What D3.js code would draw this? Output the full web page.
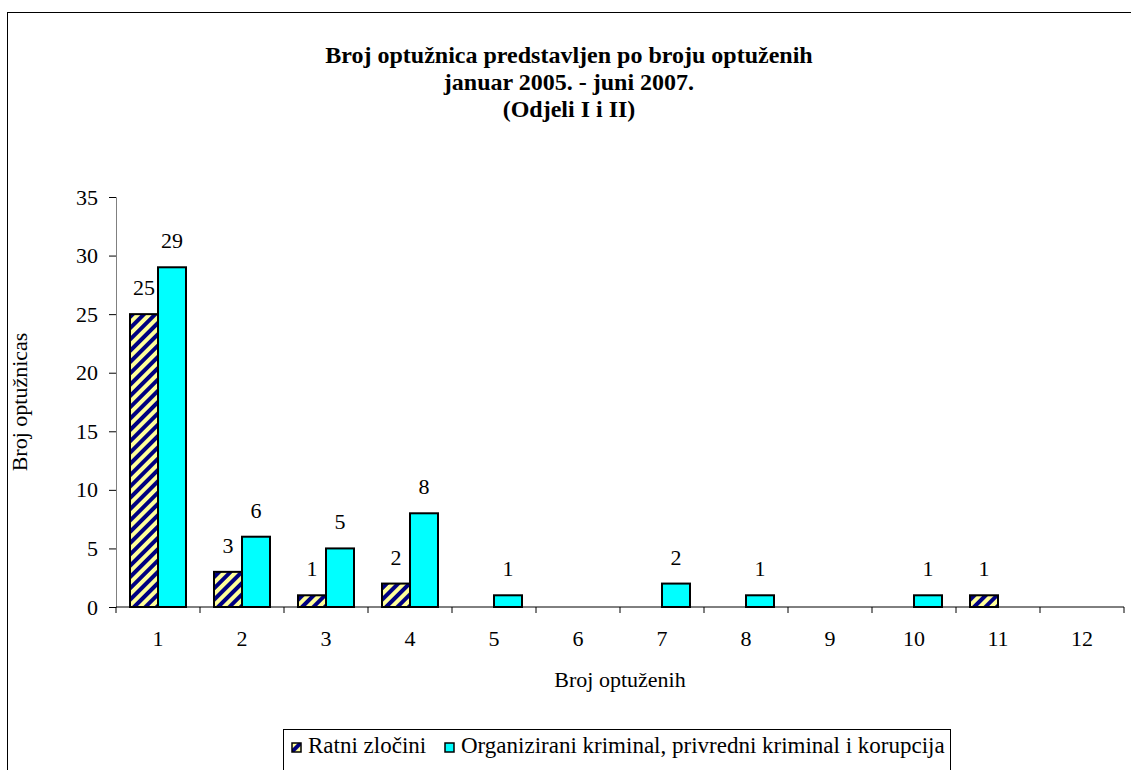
<!DOCTYPE html>
<html lang="en">
<head>
    <meta charset="UTF-8" />
    <title>Broj optužnica</title>
    <style>
        body { margin: 0; background: #fff; }
        svg text { font-family: "Liberation Serif", "Times New Roman", serif; fill: #000; }
    </style>
</head>
<body>
    <div id="container"></div>
</body>
<script src="https://cdnjs.cloudflare.com/ajax/libs/d3/7.1.1/d3.min.js"></script>
<script>
    let categories = ['1', '2', '3', '4', '5', '6', '7', '8', '9', '10', '11', '12'],
        ratni = [25, 3, 1, 2, 0, 0, 0, 0, 0, 0, 1, 0],
        organizirani = [29, 6, 5, 8, 1, 0, 2, 1, 0, 1, 0, 0],
        yTicks = [0, 5, 10, 15, 20, 25, 30, 35],
        seriesNames = ['Ratni zločini', 'Organizirani kriminal, privredni kriminal i korupcija'];

    let width = 1131, height = 770,
        plotLeft = 116, plotRight = 1124, plotTop = 197, plotBottom = 607,
        fs = 22;

    let svg = d3.select('#container').append('svg').attr('width', width).attr('height', height);

    // hatch pattern for war crimes
    let defs = svg.append('defs');
    let pat = defs.append('pattern').attr('id', 'hatch')
        .attr('patternUnits', 'userSpaceOnUse')
        .attr('width', 8).attr('height', 8)
        .attr('patternTransform', 'rotate(45)');
    pat.append('rect').attr('width', 8).attr('height', 8).attr('fill', '#ffff99');
    pat.append('rect').attr('width', 4).attr('height', 8).attr('fill', '#000080');

    // outer border
    svg.append('rect').attr('x', 7.5).attr('y', 12.5).attr('width', 1140).attr('height', 800)
        .attr('fill', 'none').attr('stroke', '#000').attr('stroke-width', 1);

    let x = d3.scaleBand().domain(categories).range([plotLeft, plotRight]);
    let x1 = d3.scaleBand().domain([0, 1]).range([0, x.bandwidth()]).paddingOuter(0.5).paddingInner(0);
    let y = d3.scaleLinear().domain([0, 35]).range([plotBottom, plotTop]);

    // title
    let title = svg.append('text').attr('text-anchor', 'middle').attr('font-weight', 'bold').attr('font-size', 24);
    ['Broj optužnica predstavljen po broju optuženih', 'januar 2005. - juni 2007.', '(Odjeli I i II)']
        .forEach((t, i) => title.append('tspan').attr('x', 569).attr('y', 63 + i * 27).text(t));

    // y axis
    let yAxis = svg.append('g').attr('transform', `translate(${plotLeft},0)`)
        .call(d3.axisLeft(y).tickValues(yTicks).tickSize(7).tickPadding(11));
    yAxis.select('.domain').attr('stroke', '#808080');
    yAxis.selectAll('.tick line').attr('stroke', '#000');
    yAxis.selectAll('text').attr('font-size', fs).attr('font-family', '"Liberation Serif", serif');

    // x axis with ticks between categories
    let xAxis = svg.append('g').attr('transform', `translate(0,${plotBottom})`);
    xAxis.append('line').attr('x1', plotLeft).attr('x2', plotRight).attr('stroke', '#000');
    let bounds = categories.map(c => x(c)).concat([plotRight]);
    xAxis.selectAll('.tk').data(bounds).enter().append('line')
        .attr('x1', d => d).attr('x2', d => d).attr('y1', 0).attr('y2', 6).attr('stroke', '#000');
    xAxis.selectAll('.lb').data(categories).enter().append('text')
        .attr('x', d => x(d) + x.bandwidth() / 2).attr('y', 39)
        .attr('text-anchor', 'middle').attr('font-size', fs).text(d => d);

    // bars
    let groups = svg.selectAll('.grp').data(categories).enter().append('g')
        .attr('transform', d => `translate(${x(d)},0)`);
    let fills = ['url(#hatch)', '#00ffff'];
    [ratni, organizirani].forEach((vals, s) => {
        groups.filter((d, i) => vals[i] > 0).append('rect')
            .attr('x', x1(s))
            .attr('width', x1.bandwidth())
            .attr('y', d => y(vals[categories.indexOf(d)]))
            .attr('height', d => plotBottom - y(vals[categories.indexOf(d)]))
            .attr('fill', fills[s]).attr('stroke', '#000').attr('stroke-width', 2);
        groups.filter((d, i) => vals[i] > 0).append('text')
            .attr('x', x1(s) + x1.bandwidth() / 2)
            .attr('y', d => y(vals[categories.indexOf(d)]) - 19)
            .attr('text-anchor', 'middle').attr('font-size', fs)
            .text(d => vals[categories.indexOf(d)]);
    });

    // axis titles
    svg.append('text').attr('transform', 'translate(27,402) rotate(-90)')
        .attr('text-anchor', 'middle').attr('font-size', fs).text('Broj optužnicas');
    svg.append('text').attr('x', (plotLeft + plotRight) / 2).attr('y', 687)
        .attr('text-anchor', 'middle').attr('font-size', fs).text('Broj optuženih');

    // legend
    let lg = svg.append('g');
    lg.append('rect').attr('x', 283.5).attr('y', 729.5).attr('width', 667).attr('height', 60)
        .attr('fill', '#fff').attr('stroke', '#000');
    let lx = [292, 445];
    seriesNames.forEach((n, i) => {
        lg.append('rect').attr('x', lx[i]).attr('y', 743).attr('width', 9).attr('height', 9)
            .attr('fill', fills[i]).attr('stroke', '#000').attr('stroke-width', 1.5);
        lg.append('text').attr('x', lx[i] + 16).attr('y', 753).attr('font-size', 23).text(n);
    });
</script>
</html>
